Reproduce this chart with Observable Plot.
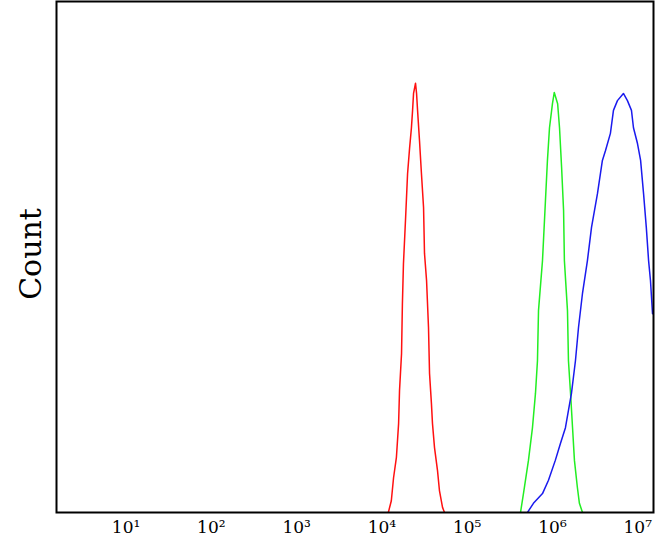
<!DOCTYPE html>
<html>
<head>
<meta charset="utf-8">
<script src="https://cdn.jsdelivr.net/npm/d3@7"></script>
<script src="https://cdn.jsdelivr.net/npm/@observablehq/plot@0.6"></script>
<style>
  html, body { margin: 0; padding: 0; background: white; }
</style>
</head>
<body>
<div id="chart"></div>
<script>
// Fluorescence intensity (x) and counts (y) for each histogram
const redIntensity = [1.19e4, 1.29e4, 1.37e4, 1.48e4, 1.57e4, 1.61e4, 1.70e4, 1.74e4, 1.79e4, 1.89e4, 2.00e4, 2.11e4, 2.22e4, 2.29e4, 2.35e4, 2.48e4, 2.55e4, 2.62e4, 2.76e4, 2.91e4, 3.08e4, 3.16e4, 3.34e4, 3.52e4, 3.62e4, 3.81e4, 3.92e4, 4.14e4, 4.49e4, 4.73e4, 5.14e4, 5.42e4];
const redCount = [0, 2.3, 6.8, 10.8, 17.4, 23.9, 31.1, 40.9, 48.7, 57.1, 66.3, 71.2, 75.3, 78.7, 82.0, 84.0, 82.0, 78.7, 72.8, 66.3, 59.7, 50.7, 45.4, 36.2, 27.2, 21.3, 17.4, 12.7, 8.2, 4.3, 1.0, 0];

const greenIntensity = [4.22e5, 4.57e5, 5.23e5, 5.83e5, 6.32e5, 6.67e5, 6.86e5, 7.64e5, 8.28e5, 8.73e5, 9.23e5, 1.00e6, 1.05e6, 1.15e6, 1.21e6, 1.28e6, 1.35e6, 1.38e6, 1.50e6, 1.54e6, 1.63e6, 1.72e6, 1.81e6, 1.96e6, 2.07e6, 2.25e6];
const greenCount = [0, 3.7, 10.2, 16.6, 23.3, 29.7, 39.5, 49.3, 61.1, 68.9, 75.3, 80.0, 82.2, 80.0, 75.3, 67.5, 59.1, 49.3, 39.5, 29.7, 23.3, 16.6, 10.2, 4.9, 1.8, 0];

const blueIntensity = [5.09e5, 5.98e5, 7.64e5, 8.98e5, 1.08e6, 1.24e6, 1.42e6, 1.54e6, 1.67e6, 1.86e6, 2.02e6, 2.25e6, 2.57e6, 2.87e6, 3.37e6, 3.85e6, 4.18e6, 4.78e6, 5.19e6, 5.78e6, 6.79e6, 7.57e6, 8.44e6, 8.91e6, 9.93e6, 1.08e7, 1.17e7, 1.26e7, 1.34e7, 1.41e7, 1.49e7];
const blueCount = [0, 1.8, 3.7, 6.3, 10.2, 13.5, 16.6, 20.0, 23.3, 29.7, 36.2, 42.9, 49.3, 55.8, 62.4, 68.9, 70.8, 74.2, 78.7, 80.6, 82.0, 80.6, 78.7, 75.3, 72.2, 68.9, 62.4, 55.8, 49.3, 45.4, 38.9];

const tickValues = [1e1, 1e2, 1e3, 1e4, 1e5, 1e6, 1e7];
const tickLabels = ["10¹", "10²", "10³", "10⁴", "10⁵", "10⁶", "10⁷"];
const yLabel = "Count";

const toRows = (xs, ys) => xs.map((x, i) => ({x, y: ys[i]}));
const red = toRows(redIntensity, redCount);
const green = toRows(greenIntensity, greenCount);
const blue = toRows(blueIntensity, blueCount);

const chart = Plot.plot({
  width: 666,
  height: 549,
  marginLeft: 56,
  marginRight: 13,
  marginTop: 1,
  marginBottom: 37,
  style: {fontFamily: "DejaVu Serif", background: "white", color: "black"},
  x: {type: "log", domain: [1.53, 1.53e7]},
  y: {domain: [0, 100], axis: null},
  marks: [
    Plot.line(red, {x: "x", y: "y", stroke: "#ff1010", strokeWidth: 1.5, clip: true}),
    Plot.line(green, {x: "x", y: "y", stroke: "#22ee22", strokeWidth: 1.5, clip: true}),
    Plot.line(blue, {x: "x", y: "y", stroke: "#1a1aee", strokeWidth: 1.5, clip: true}),
    Plot.frame({stroke: "black", strokeWidth: 2}),
    Plot.axisX(tickValues, {
      tickSize: 0,
      tickPadding: 8,
      fontSize: 17,
      label: null,
      tickFormat: d => tickLabels[tickValues.indexOf(d)]
    }),
    Plot.text([yLabel], {text: d => d, frameAnchor: "left", textAnchor: "middle", rotate: -90, dx: -25, dy: -3, fontSize: 30, fill: "black"})
  ]
});
document.getElementById("chart").appendChild(chart);
</script>
</body>
</html>
